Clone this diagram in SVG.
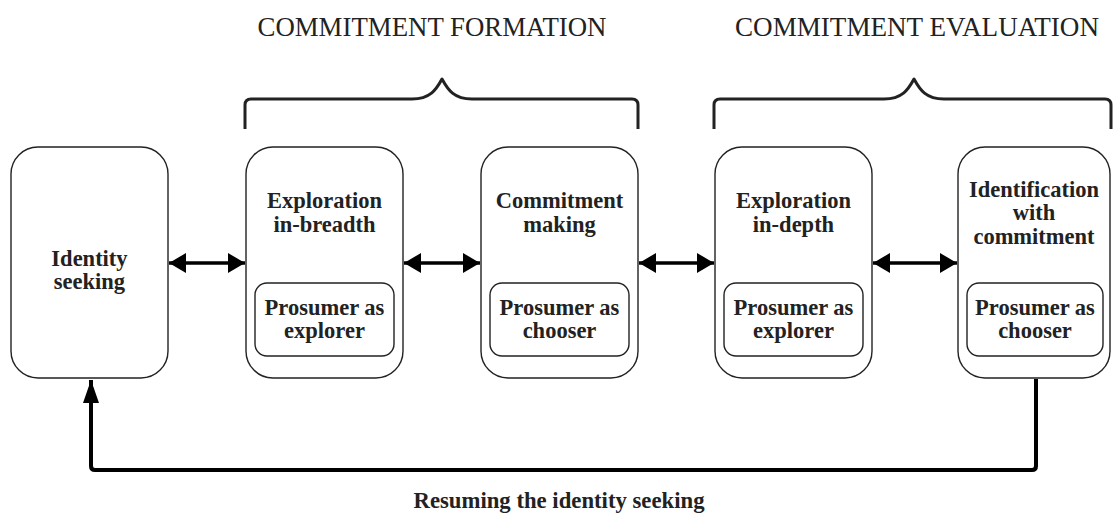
<svg xmlns="http://www.w3.org/2000/svg" width="1113" height="517" viewBox="0 0 1113 517">
<style>
.box{fill:#fff;stroke:#222;stroke-width:1.4}
.inner{fill:#fff;stroke:#222;stroke-width:1.4}
.lbl{font-family:"Liberation Serif","Times New Roman",serif;font-weight:bold;font-size:22.5px;fill:#222;text-anchor:middle}
.hdr{font-family:"Liberation Serif","Times New Roman",serif;font-size:27px;fill:#222;text-anchor:middle}
.brace{fill:none;stroke:#222;stroke-width:3;stroke-linejoin:round}
.dbl{stroke:#000;stroke-width:3.5;fill:none;marker-start:url(#ah);marker-end:url(#ah)}
</style>
<defs>
<marker id="ah" markerUnits="userSpaceOnUse" markerWidth="17" markerHeight="20" refX="17" refY="10" orient="auto-start-reverse" overflow="visible">
<path d="M0,0 L17,10 L0,20 Z" fill="#000"/>
</marker>
<marker id="ah2" markerUnits="userSpaceOnUse" markerWidth="23" markerHeight="16" refX="23" refY="8" orient="auto" overflow="visible">
<path d="M0,0 L23,8 L0,16 Z" fill="#000"/>
</marker>
</defs>

<g id="headers">
<text class="hdr" x="432" y="36" textLength="349" lengthAdjust="spacingAndGlyphs">COMMITMENT FORMATION</text>
<text class="hdr" x="917" y="36" textLength="364" lengthAdjust="spacingAndGlyphs">COMMITMENT EVALUATION</text>
<path class="brace" d="M245,129 V105 Q245,99 251,99 H412 C430,99 436,90 442,79 C448,90 454,99 472,99 H632 Q638,99 638,105 V129"/>
<path class="brace" d="M714,129 V105 Q714,99 720,99 H884 C902,99 908,90 914,79 C920,90 926,99 944,99 H1105 Q1111,99 1111,105 V129"/>
</g>

<g id="identity-seeking">
<rect class="box" x="11" y="147" width="157" height="231" rx="27"/>
<text class="lbl" x="89.5" y="266">Identity</text>
<text class="lbl" x="89.5" y="289">seeking</text>
</g>

<g id="exploration-breadth">
<rect class="box" x="246" y="147" width="157" height="231" rx="27"/>
<text class="lbl" x="324.5" y="208">Exploration</text>
<text class="lbl" x="324.5" y="232">in-breadth</text>
<rect class="inner" x="255" y="283" width="139" height="73" rx="12"/>
<text class="lbl" x="324.5" y="315">Prosumer as</text>
<text class="lbl" x="324.5" y="338">explorer</text>
</g>

<g id="commitment-making">
<rect class="box" x="481" y="147" width="157" height="231" rx="27"/>
<text class="lbl" x="559.5" y="208">Commitment</text>
<text class="lbl" x="559.5" y="232">making</text>
<rect class="inner" x="490" y="283" width="139" height="73" rx="12"/>
<text class="lbl" x="559.5" y="315">Prosumer as</text>
<text class="lbl" x="559.5" y="338">chooser</text>
</g>

<g id="exploration-depth">
<rect class="box" x="715" y="147" width="157" height="231" rx="27"/>
<text class="lbl" x="793.5" y="208">Exploration</text>
<text class="lbl" x="793.5" y="232">in-depth</text>
<rect class="inner" x="724" y="283" width="139" height="73" rx="12"/>
<text class="lbl" x="793.5" y="315">Prosumer as</text>
<text class="lbl" x="793.5" y="338">explorer</text>
</g>

<g id="identification">
<rect class="box" x="958" y="147" width="152" height="231" rx="27"/>
<text class="lbl" x="1034" y="197">Identification</text>
<text class="lbl" x="1034" y="220">with</text>
<text class="lbl" x="1034" y="244">commitment</text>
<rect class="inner" x="967" y="283" width="136" height="73" rx="12"/>
<text class="lbl" x="1035" y="315">Prosumer as</text>
<text class="lbl" x="1035" y="338">chooser</text>
</g>

<g id="connectors">
<line class="dbl" x1="169" y1="263" x2="245" y2="263"/>
<line class="dbl" x1="404" y1="263" x2="480" y2="263"/>
<line class="dbl" x1="639" y1="263" x2="714" y2="263"/>
<line class="dbl" x1="873" y1="263" x2="957" y2="263"/>
<path d="M1036,379 V466 Q1036,470 1032,470 H95 Q91,470 91,466 V380" fill="none" stroke="#000" stroke-width="4" marker-end="url(#ah2)"/>
<text class="lbl" x="559" y="508" style="font-size:24px" textLength="291" lengthAdjust="spacingAndGlyphs">Resuming the identity seeking</text>
</g>
</svg>
